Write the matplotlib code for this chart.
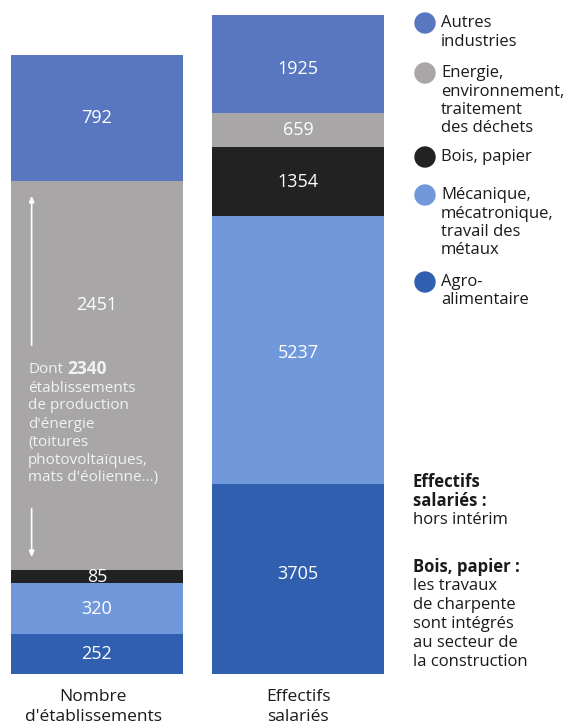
import matplotlib

matplotlib.use("Agg")
import matplotlib.pyplot as plt
import numpy as np

plt.rcParams["font.family"] = ["Open Sans", "DejaVu Sans"]

# Data (bottom to top)
sectors = [
    "Agro-\nalimentaire",
    "Mécanique,\nmécatronique,\ntravail des\nmétaux",
    "Bois, papier",
    "Energie,\nenvironnement,\ntraitement\ndes déchets",
    "Autres\nindustries",
]
etablissements = [252, 320, 85, 2451, 792]
effectifs = [3705, 5237, 1354, 659, 1925]
colors = ["#2f5fae", "#7098da", "#222222", "#a8a6a6", "#5877c0"]

INK = "#1a1a1a"
W, H = 572, 727
fig = plt.figure(figsize=(W / 100, H / 100), dpi=100)


def px_axes(x0, y_top, x1, y_bot):
    return fig.add_axes([x0 / W, 1 - y_bot / H, (x1 - x0) / W, (y_bot - y_top) / H])


def fy(py):
    return 1 - py / H


def stacked(ax, values, label_pos):
    bottoms = np.concatenate([[0], np.cumsum(values)[:-1]])
    ax.bar(0, values, bottom=bottoms, width=1, color=colors, linewidth=0)
    ax.set_xlim(-0.5, 0.5)
    ax.set_ylim(0, sum(values))
    ax.axis("off")
    for v, b, f in zip(values, bottoms, label_pos):
        ax.text(0, b + v * f, f"{v}", ha="center", va="center", color="white",
                fontsize=13, fontweight="medium")
    return bottoms


ax1 = px_axes(11, 55, 183, 674)
stacked(ax1, etablissements, [0.5, 0.5, 0.45, 0.68, 0.5])
ax2 = px_axes(212, 15, 384, 674)
stacked(ax2, effectifs, [0.53, 0.49, 0.5, 0.5, 0.45])

# arrows + note inside the grey segment
to_y = lambda py: (674 - py) * sum(etablissements) / (674 - 55)
arrow = dict(arrowstyle="-|>,head_length=0.35,head_width=0.15", color="white", lw=1.2)
ax1.annotate("", xy=(-0.38, to_y(193)), xytext=(-0.38, to_y(348)), arrowprops=arrow)
ax1.annotate("", xy=(-0.38, to_y(560)), xytext=(-0.38, to_y(506)), arrowprops=arrow)

note = ["établissements", "de production", "d'énergie", "(toitures",
        "photovoltaïques,", "mats d'éolienne...)"]
fig.text(28 / W, fy(370), "Dont", color="#f2f2f2", fontsize=11, va="center")
fig.text(67 / W, fy(369), "2340", color="#f2f2f2", fontsize=12.5, va="center",
         fontweight="bold")
for i, line in enumerate(note):
    fig.text(28 / W, fy(388 + 18 * i), line, color="#f2f2f2", fontsize=11,
             va="center")

# category labels under the bars
for x, lines in [(93, ["Nombre", "d'établissements"]), (298, ["Effectifs", "salariés"])]:
    for i, line in enumerate(lines):
        fig.text(x / W, fy(697 + 20 * i), line, ha="center", va="center",
                 fontsize=12.5, color=INK)

# legend (top to bottom)
legend_y = [23, 73, 157, 195, 282]
for name, col, y in zip(sectors[::-1], colors[::-1], legend_y):
    fig.patches.append(plt.Circle((425 / 100, (H - y) / 100), 0.1, color=col,
                                  transform=fig.dpi_scale_trans, figure=fig))
    for i, line in enumerate(name.split("\n")):
        fig.text(441 / W, fy(y + 18.5 * i), line, va="center", fontsize=12,
                 color=INK)

# footnotes
foot = [("Effectifs", "bold", 482), ("salariés :", "bold", 501),
        ("hors intérim", "normal", 520), ("Bois, papier :", "bold", 567),
        ("les travaux", "normal", 586), ("de charpente", "normal", 605),
        ("sont intégrés", "normal", 624), ("au secteur de", "normal", 643),
        ("la construction", "normal", 662)]
for line, weight, y in foot:
    fig.text(413 / W, fy(y), line, va="center", fontsize=12, fontweight=weight,
             color=INK)

fig.savefig("out.png", dpi=100)
